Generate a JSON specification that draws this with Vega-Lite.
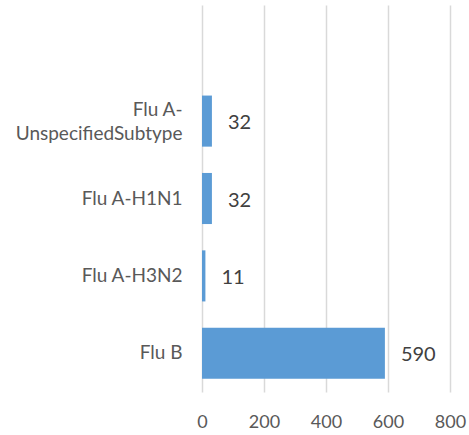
{
  "$schema": "https://vega.github.io/schema/vega-lite/v6.json",
  "autosize": "none",
  "padding": {"left": 202, "top": 5, "right": 19, "bottom": 43},
  "width": 248,
  "height": 387,
  "background": "white",
  "config": {"view": {"stroke": null}, "font": "Lato"},
  "data": {
    "values": [
      {"type": "Flu A-UnspecifiedSubtype", "count": 32},
      {"type": "Flu A-H1N1", "count": 32},
      {"type": "Flu A-H3N2", "count": 11},
      {"type": "Flu B", "count": 590}
    ]
  },
  "encoding": {
    "y": {
      "field": "type",
      "type": "nominal",
      "sort": null,
      "scale": {
        "domain": [" ", "Flu A-UnspecifiedSubtype", "Flu A-H1N1", "Flu A-H3N2", "Flu B"],
        "paddingInner": 0.34,
        "paddingOuter": 0.17
      },
      "axis": {
        "title": null,
        "domain": false,
        "ticks": false,
        "labelFont": "Lato",
        "labelFontSize": 19,
        "labelColor": "#595959",
        "labelPadding": 20,
        "labelLineHeight": 24,
        "labelLimit": 300,
        "labelOffset": {"condition": {"test": "datum.value == 'Flu A-UnspecifiedSubtype'", "value": -11}, "value": 0},
        "labelExpr": "datum.value == 'Flu A-UnspecifiedSubtype' ? ['Flu A-', 'UnspecifiedSubtype'] : datum.value"
      }
    },
    "x": {
      "field": "count",
      "type": "quantitative",
      "scale": {"domain": [0, 800]},
      "axis": {
        "title": null,
        "values": [0, 200, 400, 600, 800],
        "domain": false,
        "ticks": false,
        "grid": true,
        "gridColor": "#d9d9d9",
        "gridWidth": 1.5,
        "labelFont": "Lato",
        "labelFontSize": 18,
        "labelColor": "#595959",
        "labelPadding": 21,
        "labelFlush": false
      }
    }
  },
  "layer": [
    {"mark": {"type": "bar", "color": "#5B9BD5"}},
    {
      "mark": {"type": "text", "align": "left", "baseline": "middle", "dx": 16, "dy": 2, "fontSize": 20, "font": "Lato", "color": "#404040"},
      "encoding": {"text": {"field": "count", "type": "quantitative"}}
    }
  ]
}
